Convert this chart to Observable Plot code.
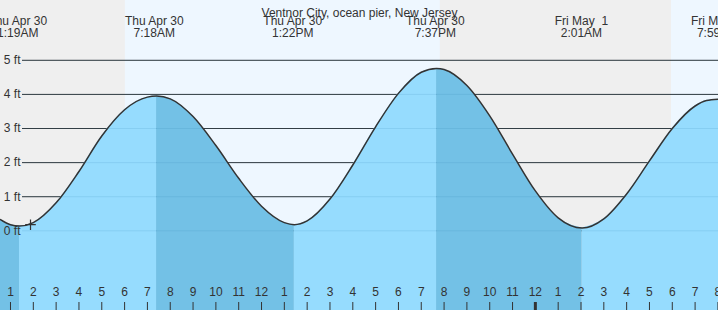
<!DOCTYPE html>
<html>
<head>
<meta charset="utf-8">
<script src="https://cdn.jsdelivr.net/npm/d3@7"></script>
<script src="https://cdn.jsdelivr.net/npm/@observablehq/plot@0.6"></script>
<style>
  html, body { margin: 0; padding: 0; background: #efefef; }
  svg text { white-space: pre; }
</style>
</head>
<body>
<div id="chart"></div>
<script>
// ---- data (hours are offsets from Thu Apr 30 00:00) ----
const title = "Ventnor City, ocean pier, New Jersey";

const tideHours = [0.562, 1, 1.394, 2, 3, 4, 5, 6, 7, 7.40, 8, 9, 10, 11, 12, 13, 13.44,
                   14, 15, 16, 17, 18, 19, 19.67, 20, 21, 22, 23, 24, 25, 26.05,
                   27, 28, 29, 30, 31, 31.5, 32.025];
const tideFeet  = [0.33, 0.18, 0.14, 0.24, 0.82, 1.74, 2.78, 3.55, 3.92, 3.95, 3.87, 3.35, 2.50, 1.54, 0.72, 0.24, 0.18,
                   0.29, 0.93, 1.93, 3.05, 4.03, 4.65, 4.76, 4.73, 4.26, 3.37, 2.25, 1.17, 0.38, 0.08,
                   0.35, 1.08, 2.05, 3.00, 3.66, 3.82, 3.86];

const eventTimes = ["2020-04-30T01:19Z", "2020-04-30T07:18Z", "2020-04-30T13:22Z",
                    "2020-04-30T19:37Z", "2020-05-01T02:01Z", "2020-05-01T07:59Z"];
const eventDays  = ["Thu Apr 30", "Thu Apr 30", "Thu Apr 30", "Thu Apr 30", "Fri May  1", "Fri May  1"];
const eventClock = ["1:19AM", "7:18AM", "1:22PM", "7:37PM", "2:01AM", "7:59AM"];

const daylightStart = ["2020-04-30T06:02Z", "2020-05-01T05:58Z"];
const daylightEnd   = ["2020-04-30T19:50Z", "2020-05-01T12:00Z"];

const feetTicks = [0, 1, 2, 3, 4, 5];
const feetLabels = ["0 ft", "1 ft", "2 ft", "3 ft", "4 ft", "5 ft"];

const hourTicks = [1,2,3,4,5,6,7,8,9,10,11,12,13,14,15,16,17,18,19,20,21,22,23,24,25,26,27,28,29,30,31,32];
const hourLabels = ["1","2","3","4","5","6","7","8","9","10","11","12","1","2","3","4","5","6","7","8","9","10","11","12","1","2","3","4","5","6","7","8"];
const midnightHour = 24;

const nowHour = [1.877];
const nowFeet = [0.18];

const xDomainHours = [0.562, 32.025];
const yDomainFeet = [-2.337, 6.754];

// ---- build ----
const base = Date.UTC(2020, 3, 30);
const toDate = h => new Date(base + h * 3600e3);

const tide = tideHours.map((h, i) => ({date: toDate(h), ft: tideFeet[i]}));
// split into rising / falling segments at local extrema
const breaks = [0];
for (let i = 1; i < tide.length - 1; i++) {
  const a = tide[i-1].ft, b = tide[i].ft, c = tide[i+1].ft;
  if ((b < a && b < c) || (b > a && b > c)) breaks.push(i);
}
breaks.push(tide.length - 1);
const rows = [];
for (let s = 0; s < breaks.length - 1; s++) {
  const i0 = breaks[s], i1 = breaks[s+1];
  const falling = tide[i1].ft < tide[i0].ft;
  for (let i = i0; i <= i1; i++) rows.push({...tide[i], seg: s, falling});
}
const yMin = yDomainFeet[0];

const events = eventTimes.map((t, i) => ({date: new Date(t), text: eventDays[i] + "\n" + eventClock[i]}));
const daylight = daylightStart.map((s, i) => ({x1: new Date(s), x2: new Date(daylightEnd[i])}));
const feet = feetTicks.map((f, i) => ({ft: f, label: feetLabels[i]}));
const hours = hourTicks.map((h, i) => ({date: toDate(h), label: hourLabels[i], w: h === midnightHour ? 3 : 1}));
const now = nowHour.map((h, i) => ({date: toDate(h), ft: nowFeet[i]}));

const ink = "#333333";
const light = "#96dcfe";
const dark = "#73c1e6";

const chart = Plot.plot({
  width: 718,
  height: 310,
  margin: 0,
  style: {fontFamily: "'Liberation Sans', Arial, sans-serif", fontSize: "12px", background: "#efefef", color: ink},
  x: {type: "utc", domain: xDomainHours.map(toDate), axis: null},
  y: {domain: yDomainFeet, axis: null},
  marks: [
    Plot.rect(daylight, {x1: "x1", x2: "x2", fill: "#eef7ff"}),
    Plot.ruleY(feet, {y: "ft", stroke: ink, strokeWidth: 1, insetLeft: 22}),
    Plot.areaY(rows.filter(d => !d.falling), {x: "date", y1: yMin, y2: "ft", z: "seg", fill: light, curve: "monotone-x"}),
    Plot.areaY(rows.filter(d => d.falling), {x: "date", y1: yMin, y2: "ft", z: "seg", fill: dark, curve: "monotone-x"}),
    Plot.ruleY(feet, {y: "ft", stroke: "#2f7fb0", strokeOpacity: 0.15, strokeWidth: 1, insetLeft: 22}),
    Plot.line(tide, {x: "date", y: "ft", stroke: ink, strokeWidth: 1.5, curve: "monotone-x"}),
    Plot.dot(now, {x: "date", y: "ft", symbol: "plus", r: 3.5, stroke: ink, strokeWidth: 1.2}),
    Plot.text(feet, {y: "ft", text: "label", frameAnchor: "left", dx: 20, textAnchor: "end", fill: ink}),
    Plot.text([title], {text: d => d, frameAnchor: "top", dy: 8, fill: ink}),
    Plot.text(events, {x: "date", text: "text", frameAnchor: "top", lineAnchor: "top", lineHeight: 1.0, dy: 16, fill: ink}),
    Plot.tickX(hours, {x: "date", stroke: ink, strokeWidth: "w", insetTop: 302}),
    Plot.text(hours, {x: "date", text: "label", frameAnchor: "bottom", dy: -15, fill: ink})
  ]
});
document.getElementById("chart").appendChild(chart);
</script>
</body>
</html>
